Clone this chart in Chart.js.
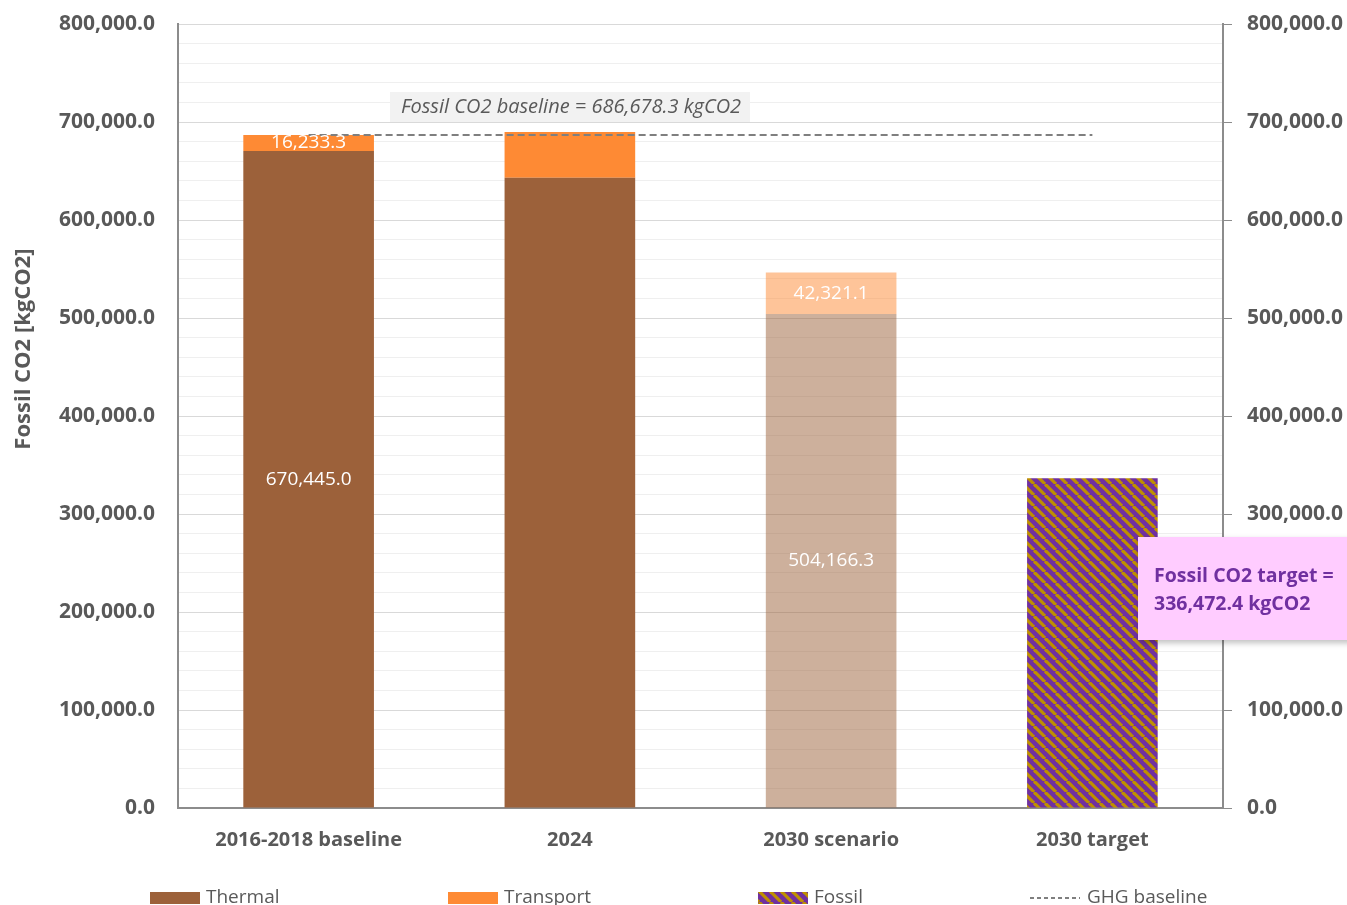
<!DOCTYPE html>
<html>
<head>
<meta charset="utf-8">
<script src="https://cdn.jsdelivr.net/npm/chart.js@4.4.1/dist/chart.umd.min.js"></script>
<style>
  body { margin: 0; background: #fff; }
  #wrap { position: relative; width: 1347px; height: 905px; overflow: hidden; }
</style>
</head>
<body>
<div id="wrap"><canvas id="myChart"></canvas></div>
<script>
// ----- DATA -----
const categories = ['2016-2018 baseline', '2024', '2030 scenario', '2030 target'];
const thermal = [670445.0, 643000, 504166.3, null];
const transport = [16233.3, 46800, 42321.1, null];
const fossil = [null, null, null, 336472.4];
const ghgBaseline = [686678.3, 686678.3, 686678.3, 686678.3];
const showLabel = [true, false, true, false]; // 2024 tidak ada label

const yTitle = 'Fossil CO2 [kgCO2]';
const baselineNote = 'Fossil CO2 baseline = 686,678.3 kgCO2';
const targetNote = ['Fossil CO2 target =', '336,472.4 kgCO2'];

const grey = '#595959';
const fontName = "'Open Sans', sans-serif";

// pola garis miring untuk Fossil
function makeHatch() {
    const c = document.createElement('canvas');
    c.width = 11; c.height = 11;
    const g = c.getContext('2d');
    g.fillStyle = '#7030A0';
    g.fillRect(0, 0, 11, 11);
    g.strokeStyle = '#BF9000';
    g.lineWidth = 3.2;
    [-11, 0, 11].forEach(x => {
        g.beginPath();
        g.moveTo(x, 0);
        g.lineTo(x + 11, 11);
        g.stroke();
    });
    return g.createPattern(c, 'repeat');
}
const hatch = makeHatch();

function fmt(v) {
    return v.toLocaleString('en-US', { minimumFractionDigits: 1, maximumFractionDigits: 1 });
}

// label putih di tengah segmen
const labelPlugin = {
    id: 'segLabels',
    afterDatasetsDraw(chart) {
        const ctx = chart.ctx;
        ctx.save();
        ctx.fillStyle = '#ffffff';
        ctx.font = '19px ' + fontName;
        ctx.textAlign = 'center';
        ctx.textBaseline = 'middle';
        [0, 1].forEach(di => {
            const meta = chart.getDatasetMeta(di);
            meta.data.forEach((bar, i) => {
                const v = chart.data.datasets[di].data[i];
                if (!showLabel[i] || v == null) return;
                const mid = (bar.y + bar.base) / 2;
                ctx.fillText(fmt(v), bar.x, mid);
            });
        });
        ctx.restore();
    }
};

// judul sumbu y, kotak catatan + legenda bawah
const notePlugin = {
    id: 'notes',
    afterDraw(chart) {
        const ctx = chart.ctx;
        ctx.save();
        ctx.textAlign = 'center';
        ctx.textBaseline = 'middle';

        // y title
        ctx.save();
        ctx.translate(24, 349);
        ctx.rotate(-Math.PI / 2);
        ctx.fillStyle = grey;
        ctx.font = 'bold 22px ' + fontName;
        ctx.fillText(yTitle, 0, 0);
        ctx.restore();

        // baseline note
        ctx.fillStyle = '#f2f2f2';
        ctx.fillRect(390, 92, 360, 30);
        ctx.fillStyle = grey;
        ctx.font = 'italic 20px ' + fontName;
        ctx.fillText(baselineNote, 571, 107);

        // target note
        ctx.shadowColor = 'rgba(0,0,0,0.25)';
        ctx.shadowBlur = 6;
        ctx.shadowOffsetX = 2;
        ctx.shadowOffsetY = 3;
        ctx.fillStyle = '#FFCCFF';
        ctx.fillRect(1138, 537, 215, 103);
        ctx.shadowColor = 'transparent';
        ctx.fillStyle = '#7030A0';
        ctx.font = 'bold 19.5px ' + fontName;
        ctx.textAlign = 'left';
        ctx.fillText(targetNote[0], 1154, 576);
        ctx.fillText(targetNote[1], 1154, 604);

        // legend
        const ly = 897;
        ctx.font = '19px ' + fontName;
        const items = [
            { x: 150, fill: '#9C613A', text: 'Thermal' },
            { x: 448, fill: '#FE8A34', text: 'Transport' },
            { x: 758, fill: hatch, text: 'Fossil' }
        ];
        items.forEach(it => {
            ctx.fillStyle = it.fill;
            ctx.fillRect(it.x, ly - 5, 50, 12);
            ctx.fillStyle = grey;
            ctx.fillText(it.text, it.x + 56, ly + 1);
        });
        ctx.strokeStyle = '#7f7f7f';
        ctx.lineWidth = 2;
        ctx.setLineDash([4, 3]);
        ctx.beginPath();
        ctx.moveTo(1030, ly + 1);
        ctx.lineTo(1080, ly + 1);
        ctx.stroke();
        ctx.setLineDash([]);
        ctx.fillStyle = grey;
        ctx.fillText('GHG baseline', 1087, ly + 1);
        ctx.restore();
    }
};

const ctx = document.getElementById('myChart').getContext('2d');

new Chart(ctx, {
    type: 'bar',
    data: {
        labels: categories,
        datasets: [
            {
                label: 'Thermal',
                data: thermal,
                backgroundColor: ['#9C613A', '#9C613A', 'rgba(156,97,58,0.5)', '#9C613A'],
                stack: 's', order: 2
            },
            {
                label: 'Transport',
                data: transport,
                backgroundColor: ['#FE8A34', '#FE8A34', 'rgba(254,138,52,0.5)', '#FE8A34'],
                stack: 's', order: 2
            },
            {
                label: 'Fossil',
                data: fossil,
                backgroundColor: hatch,
                stack: 's', order: 2
            },
            {
                type: 'line',
                label: 'GHG baseline',
                data: ghgBaseline,
                borderColor: '#7f7f7f',
                borderWidth: 2,
                borderDash: [7, 4],
                pointRadius: 0,
                fill: false,
                order: 1
            }
        ]
    },
    options: {
        responsive: true,
        maintainAspectRatio: false,
        animation: false,
        layout: { padding: { top: 24, left: 0, right: 0, bottom: 0 } },
        plugins: {
            legend: { display: false },
            tooltip: { enabled: false }
        },
        datasets: {
            bar: { barPercentage: 0.5, categoryPercentage: 1.0 }
        },
        scales: {
            x: {
                stacked: true,
                grid: { display: false, drawTicks: false },
                border: { color: '#8c8c8c', width: 2 },
                ticks: {
                    color: grey,
                    font: { family: fontName, size: 20, weight: 'bold' },
                    padding: 20,
                    maxRotation: 0
                },
                afterFit(scale) { scale.height = 97; }
            },
            y: {
                stacked: true,
                min: 0, max: 800000,
                position: 'left',
                border: { color: '#8c8c8c', width: 2 },
                grid: {
                    drawTicks: false,
                    color: c => (c.tick && c.tick.value % 100000 === 0) ? '#d9d9d9' : '#efefef',
                    lineWidth: 1
                },
                ticks: {
                    stepSize: 20000,
                    autoSkip: false,
                    padding: 23,
                    color: grey,
                    font: { family: fontName, size: 21, weight: 'bold' },
                    callback: v => v % 100000 === 0 ? fmt(v) : ''
                },
                afterFit(scale) {
                    scale.width = 178;
                    scale.paddingTop = 0;
                    scale.paddingBottom = 0;
                }
            },
            y2: {
                min: 0, max: 800000,
                position: 'right',
                border: { color: '#8c8c8c', width: 2 },
                grid: {
                    drawOnChartArea: false,
                    tickLength: 9,
                    tickColor: c => (c.tick && c.tick.value % 100000 === 0) ? '#8c8c8c' : 'rgba(0,0,0,0)'
                },
                ticks: {
                    stepSize: 20000,
                    autoSkip: false,
                    padding: 15,
                    color: grey,
                    font: { family: fontName, size: 21, weight: 'bold' },
                    callback: v => v % 100000 === 0 ? fmt(v) : ''
                },
                afterFit(scale) {
                    scale.width = 124;
                    scale.paddingTop = 0;
                    scale.paddingBottom = 0;
                }
            }
        }
    },
    plugins: [labelPlugin, notePlugin]
});
</script>
</body>
</html>
